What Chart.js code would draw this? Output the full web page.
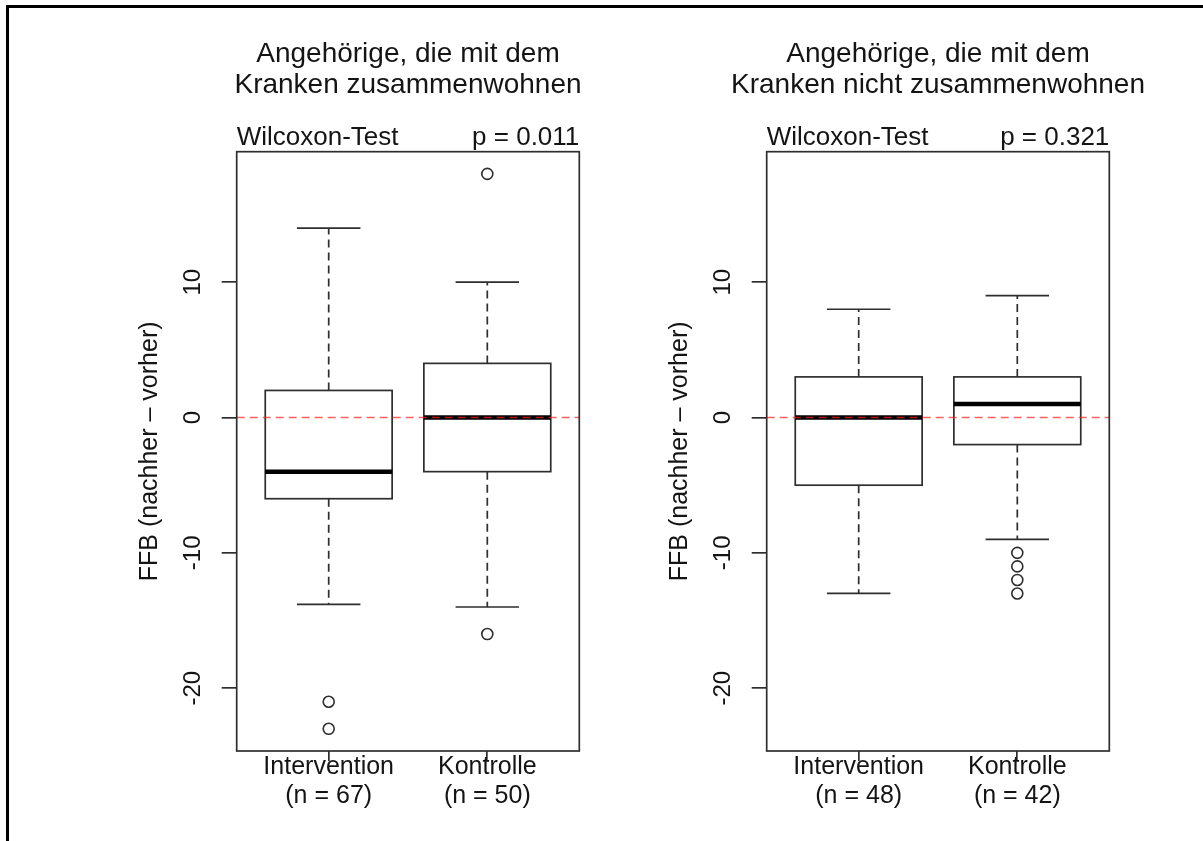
<!DOCTYPE html>
<html>
<head>
<meta charset="utf-8">
<script src="https://cdn.jsdelivr.net/npm/chart.js@4"></script>
<style>
  html, body { margin: 0; padding: 0; background: #fff; }
  body { width: 1203px; height: 841px; position: relative; overflow: hidden; }
  #frame { position: absolute; left: 6px; top: 5px; width: 1300px; height: 900px;
           border-top: 3px solid #000; border-left: 3px solid #000; }
  .panel { position: absolute; top: 0; width: 660px; height: 841px; }
  #p1 { left: 0; }
  #p2 { left: 530px; }
</style>
</head>
<body>
<div id="frame"></div>
<div class="panel" id="p1"><canvas id="c1" width="660" height="841"></canvas></div>
<div class="panel" id="p2"><canvas id="c2" width="660" height="841"></canvas></div>
<script>
// Groups on the x axis and their sample sizes
const groups = ['Intervention', 'Kontrolle'];
const countsTogether = ['(n = 67)', '(n = 50)'];
const countsApart = ['(n = 48)', '(n = 42)'];

// Shared y axis
const yTicks = [-20, -10, 0, 10];
const yRange = [-24.64, 19.64];
const refLine = 0;

// Five-number summaries per group: [lower whisker, Q1, median, Q3, upper whisker]
const statsTogether = [[-13.8, -6, -4, 2, 14], [-14, -4, 0, 4, 10]];
const outliersTogether = [[-21, -23], [18, -16]];
const statsApart = [[-13, -5, 0, 3, 8], [-9, -2, 1, 3, 9]];
const outliersApart = [[], [-10, -11, -12, -13]];

// Panel texts
const titleTogether = ['Angehörige, die mit dem', 'Kranken zusammenwohnen'];
const titleApart = ['Angehörige, die mit dem', 'Kranken nicht zusammenwohnen'];
const testName = 'Wilcoxon-Test';
const pTogether = 'p = 0.011';
const pApart = 'p = 0.321';
const yLabel = 'FFB (nachher – vorher)';

const FAMILY = '"Liberation Sans", Arial, Helvetica, sans-serif';
const INK = '#141414';
const LINE = '#2e2e2e';
const CANVAS_W = 660;
Chart.defaults.font.family = FAMILY;

const boxPlugin = {
  id: 'boxes',
  beforeDatasetsDraw(chart, args, opts) {
    const { ctx, scales: { x, y } } = chart;
    opts.stats.forEach((s, i) => {
      const pos = i + 1;
      const cx = x.getPixelForValue(pos);
      const half = x.getPixelForValue(pos + 0.4) - cx;
      const [lo, q1, med, q3, hi] = s.map(v => y.getPixelForValue(v));
      ctx.save();
      ctx.strokeStyle = LINE;
      ctx.lineWidth = 1.7;
      // dashed whiskers from the box outwards
      ctx.setLineDash([8, 5]);
      ctx.beginPath();
      ctx.moveTo(cx, q3); ctx.lineTo(cx, hi);
      ctx.moveTo(cx, q1); ctx.lineTo(cx, lo);
      ctx.stroke();
      ctx.setLineDash([]);
      // staples
      ctx.beginPath();
      ctx.moveTo(cx - half / 2, hi); ctx.lineTo(cx + half / 2, hi);
      ctx.moveTo(cx - half / 2, lo); ctx.lineTo(cx + half / 2, lo);
      ctx.stroke();
      // box
      ctx.fillStyle = '#fff';
      ctx.fillRect(cx - half, q3, 2 * half, q1 - q3);
      ctx.strokeRect(cx - half, q3, 2 * half, q1 - q3);
      // median
      ctx.strokeStyle = '#000';
      ctx.lineWidth = 4.5;
      ctx.beginPath();
      ctx.moveTo(cx - half, med); ctx.lineTo(cx + half, med);
      ctx.stroke();
      ctx.restore();
    });
  },
  afterDatasetsDraw(chart) {
    const { ctx, chartArea: a, scales: { y } } = chart;
    const py = y.getPixelForValue(refLine);
    ctx.save();
    ctx.strokeStyle = 'rgba(255, 30, 30, 0.7)';
    ctx.lineWidth = 1.5;
    ctx.setLineDash([8, 5]);
    ctx.beginPath();
    ctx.moveTo(a.left, py); ctx.lineTo(a.right, py);
    ctx.stroke();
    ctx.restore();
  },
  afterDraw(chart, args, opts) {
    const { ctx, chartArea: a, scales: { y } } = chart;
    ctx.save();
    // plot frame
    ctx.strokeStyle = LINE;
    ctx.lineWidth = 1.7;
    ctx.strokeRect(a.left, a.top, a.right - a.left, a.bottom - a.top);
    // y tick labels, written along the axis
    ctx.fillStyle = INK;
    ctx.font = '24px ' + FAMILY;
    ctx.textAlign = 'center';
    ctx.textBaseline = 'alphabetic';
    y.ticks.forEach(t => {
      const py = y.getPixelForValue(t.value);
      ctx.save();
      ctx.translate(a.left - 36.5, py);
      ctx.rotate(-Math.PI / 2);
      ctx.fillText(String(t.value), 0, 0);
      ctx.restore();
    });
    // two-line panel title
    const cx = (a.left + a.right) / 2;
    ctx.font = '28px ' + FAMILY;
    ctx.fillText(opts.title[0], cx, 61.5);
    ctx.fillText(opts.title[1], cx, 92.5);
    // test annotation above the frame
    ctx.font = '26px ' + FAMILY;
    ctx.textAlign = 'left';
    ctx.fillText(testName, a.left, 145);
    ctx.textAlign = 'right';
    ctx.fillText(opts.p, a.right, 145);
    ctx.restore();
  }
};

function makePanel(canvasId, stats, outliers, counts, title, p) {
  const points = [];
  outliers.forEach((vals, i) => vals.forEach(v => points.push({ x: i + 1, y: v })));
  return new Chart(document.getElementById(canvasId), {
    type: 'scatter',
    data: {
      datasets: [{
        data: points,
        pointStyle: 'circle',
        pointRadius: 5.5,
        pointBorderWidth: 1.6,
        pointBorderColor: LINE,
        pointBackgroundColor: 'rgba(0,0,0,0)'
      }]
    },
    options: {
      responsive: false,
      animation: false,
      devicePixelRatio: 1,
      events: [],
      layout: { padding: { top: 151.7, right: CANVAS_W - 579.3, bottom: 0, left: 0 } },
      plugins: {
        legend: { display: false },
        tooltip: { enabled: false },
        boxes: { stats: stats, title: title, p: p }
      },
      scales: {
        x: {
          type: 'linear',
          min: 0.42,
          max: 2.58,
          afterBuildTicks: s => { s.ticks = groups.map((g, i) => ({ value: i + 1 })); },
          afterFit: s => { s.height = 90; },
          border: { display: false },
          grid: { drawOnChartArea: false, drawTicks: true, tickLength: 10, color: LINE, lineWidth: 1.7 },
          ticks: {
            autoSkip: false,
            maxRotation: 0,
            padding: -8.5,
            color: INK,
            font: { size: 25, lineHeight: 1.16 },
            callback: v => [groups[v - 1], counts[v - 1]]
          }
        },
        y: {
          min: yRange[0],
          max: yRange[1],
          afterBuildTicks: s => { s.ticks = yTicks.map(v => ({ value: v })); },
          afterFit: s => { s.width = 236.7; },
          border: { display: false },
          grid: { drawOnChartArea: false, drawTicks: true, tickLength: 15, color: LINE, lineWidth: 1.7 },
          ticks: { display: false },
          title: {
            display: true,
            text: yLabel,
            color: INK,
            font: { size: 25, lineHeight: 1.2 },
            padding: { top: 135.5, bottom: 0 }
          }
        }
      }
    },
    plugins: [boxPlugin]
  });
}

makePanel('c1', statsTogether, outliersTogether, countsTogether, titleTogether, pTogether);
makePanel('c2', statsApart, outliersApart, countsApart, titleApart, pApart);
</script>
</body>
</html>
